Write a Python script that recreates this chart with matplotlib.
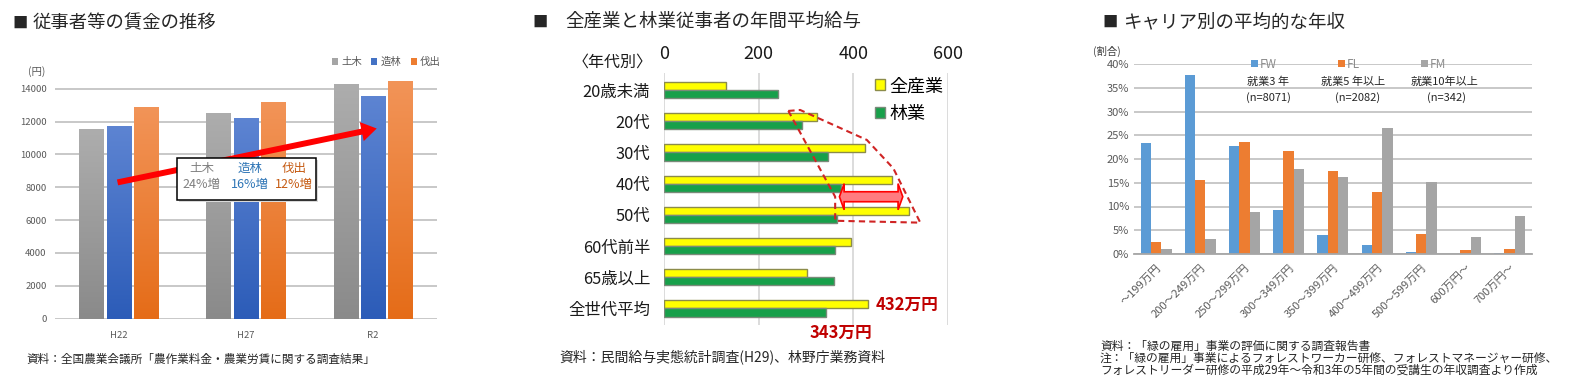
import numpy as np
import matplotlib
matplotlib.use('Agg')
import matplotlib.pyplot as plt
from matplotlib.patches import FancyArrowPatch, Polygon, Rectangle
from matplotlib.colors import LinearSegmentedColormap

plt.rcParams['font.family'] = ['Noto Sans CJK JP', 'DejaVu Sans']

# ---- data: panel 1 (wages per day, yen)
years = ['H22', 'H27', 'R2']
wage_series = ['土木', '造林', '伐出']
wage_doboku = [11550, 12520, 14290]
wage_zourin = [11730, 12220, 13540]
wage_bassyutsu = [12890, 13190, 14470]
wage_growth = ['24%増', '16%増', '12%増']

# ---- data: panel 2 (annual salary by age, 10k yen)
age_groups = ['20歳未満', '20代', '30代', '40代', '50代', '60代前半', '65歳以上', '全世代平均']
all_industry = [131, 323, 426, 482, 518, 396, 302, 432]
forestry = [242, 292, 346, 374, 365, 361, 360, 343]

# ---- data: panel 3 (income distribution by career)
income_bins = ['～199万円', '200～249万円', '250～299万円', '300～349万円', '350～399万円',
               '400～499万円', '500～599万円', '600万円～', '700万円～']
fw = [23.3, 37.7, 22.7, 9.3, 4.0, 1.8, 0.4, 0.0, 0.3]
fl = [2.5, 15.5, 23.5, 21.7, 17.5, 13.1, 4.2, 0.8, 1.0]
fm = [1.0, 3.2, 8.8, 17.8, 16.2, 26.5, 15.2, 3.6, 8.0]
career_notes = [('就業3 年', '(n=8071)'), ('就業5 年以上', '(n=2082)'), ('就業10年以上', '(n=342)')]

W, H = 1589, 386
fig = plt.figure(figsize=(W / 100, H / 100), dpi=100)


def fx(px):
    return px / W


def fy(py):
    return 1 - py / H


def box(l, t, r, b):
    return [fx(l), fy(b), (r - l) / W, (b - t) / H]


TXT = '#262626'

# =================== panel 1 ===================
ax1 = fig.add_axes(box(55, 55.8, 436.7, 318.7))
x = np.arange(len(years))
bw = 0.19
off = 0.215
tops = ['#adadad', '#5d84d2', '#f29458']
bots = ['#8a8a8a', '#2c5cb8', '#e56c18']
legend_cols = ['#a5a5a5', '#4472c4', '#ed7d31']
for k, vals in enumerate([wage_doboku, wage_zourin, wage_bassyutsu]):
    bars = ax1.bar(x + (k - 1) * off, vals, bw, color=legend_cols[k], zorder=2,
                   label=wage_series[k])
    # vertical gradient like the excel bars
    cmap = LinearSegmentedColormap.from_list('g%d' % k, [bots[k], tops[k]])
    grad = np.linspace(0, 1, 256).reshape(-1, 1)
    for b in bars:
        im = ax1.imshow(grad, extent=[b.get_x(), b.get_x() + b.get_width(), 0, b.get_height()],
                        origin='lower', aspect='auto', cmap=cmap, zorder=2.1)
        im.set_clip_path(b)
ax1.set_xlim(-0.5, 2.5)
ax1.set_ylim(0, 16000)
ax1.set_yticks(np.arange(0, 14001, 2000))
ax1.set_xticks(x)
ax1.set_xticklabels(years)
for s in ax1.spines.values():
    s.set_visible(False)
ax1.tick_params(length=0, labelsize=6.8, colors='#595959', pad=9)
ax1.tick_params(axis='y', pad=6)
ax1.yaxis.grid(True, color='#c4c4c4', lw=1.3, zorder=0)
ax1.set_axisbelow(True)
ax1.legend(loc='upper right', bbox_to_anchor=(fx(445), fy(53)), bbox_transform=fig.transFigure,
           ncol=3, frameon=False, fontsize=7.5, handlelength=0.6, handleheight=0.6,
           handletextpad=0.3, columnspacing=0.9, labelcolor='#595959', borderaxespad=0)

# red arrow, behind the box
ax1.add_patch(FancyArrowPatch((-0.03, 8260), (2.05, 11610),
                              arrowstyle='simple,tail_width=4.3,head_width=14,head_length=11',
                              color='#ff0000', lw=0, zorder=4))
# growth box
ax1.add_patch(Rectangle((0.475, 7100), 1.09, 2560, facecolor='#d9d9d9', edgecolor='none', zorder=4.5))
ax1.add_patch(Rectangle((0.458, 7225), 1.09, 2556, facecolor='white', edgecolor='black', lw=1.1, zorder=5))
box_x = [0.654, 1.031, 1.377]
box_c = ['#7f7f7f', '#2e75b6', '#c55a11']
for k in range(3):
    ax1.text(box_x[k], 9120, wage_series[k], color=box_c[k], fontsize=9, ha='center', va='center', zorder=6)
    ax1.text(box_x[k], 8180, wage_growth[k], color=box_c[k], fontsize=9, ha='center', va='center', zorder=6)
ax1.text(-0.64, 15050, '(円)', fontsize=7.5, color='#595959', ha='center', va='center')

fig.text(fx(12), fy(23), '■', fontsize=11, color=TXT, va='center')
fig.text(fx(33), fy(23), '従事者等の賃金の推移', fontsize=13.2, color=TXT, va='center')
fig.text(fx(26), fy(359), '資料：全国農業会議所「農作業料金・農業労賃に関する調査結果」', fontsize=8.4,
         color=TXT, va='center')

# =================== panel 2 ===================
ax2 = fig.add_axes(box(664, 73, 947.7, 325))
y = np.arange(len(age_groups))
bh = 0.26
ax2.barh(y - bh / 2, all_industry, bh, color='#ffff00', edgecolor='#8c8c4a', lw=1, zorder=2, label='全産業')
ax2.barh(y + bh / 2, forestry, bh, color='#17a04a', edgecolor='#7a8a7a', lw=1, zorder=2, label='林業')
ax2.set_xlim(0, 600)
ax2.set_ylim(7.53, -0.545)
ax2.set_xticks([0, 200, 400, 600])
ax2.set_yticks(y)
ax2.set_yticklabels(age_groups)
ax2.xaxis.tick_top()
for s in ax2.spines.values():
    s.set_visible(False)
ax2.tick_params(axis='x', length=0, labelsize=13, colors='#1a1a1a', pad=7.5)
ax2.tick_params(axis='y', length=0, labelsize=11.8, colors='#1a1a1a', pad=10)
ax2.xaxis.grid(True, color='#d9d9d9', lw=1.3, zorder=0)
ax2.set_axisbelow(True)
ax2.legend(loc='upper left', bbox_to_anchor=(fx(868), fy(70)), bbox_transform=fig.transFigure,
           frameon=False, fontsize=13, handlelength=0.55, handleheight=0.55, handletextpad=0.25,
           labelspacing=0.55, borderaxespad=0)

# dashed outline of the 40s-50s gap
gap_x = [263, 288, 429, 485, 542, 362, 362]
gap_y = [0.67, 0.64, 1.6, 2.51, 4.25, 4.19, 3.42]
ax2.add_patch(Polygon(np.column_stack([gap_x, gap_y]), closed=True, fill=False, edgecolor='#d02424',
                      lw=1.5, ls=(0, (3, 2)), zorder=4, clip_on=False))
# double arrow
ax_l, ax_r, ay = 371, 505, 3.42
sh, hh, hl = 0.16, 0.42, 10
arr = [(ax_l, ay), (ax_l + hl, ay - hh), (ax_l + hl, ay - sh), (ax_r - hl, ay - sh), (ax_r - hl, ay - hh),
       (ax_r, ay), (ax_r - hl, ay + hh), (ax_r - hl, ay + sh), (ax_l + hl, ay + sh), (ax_l + hl, ay + hh)]
ax2.add_patch(Polygon(arr, closed=True, facecolor='#ff7c80', edgecolor='#ff0000', lw=1.2, zorder=5))

ax2.text(all_industry[-1] + 15, 7 - bh / 2, '%d万円' % all_industry[-1], color='#c00000', fontsize=12,
         fontweight='bold', va='center', ha='left', clip_on=False)
ax2.text(forestry[-1] - 36, 7.78, '%d万円' % forestry[-1], color='#c00000', fontsize=12,
         fontweight='bold', va='center', ha='left', clip_on=False)

fig.text(fx(613), fy(62), '〈年代別〉', fontsize=11.5, color='#1a1a1a', ha='center', va='center')
fig.text(fx(532), fy(22), '■', fontsize=11, color=TXT, va='center')
fig.text(fx(565), fy(22), '全産業と林業従事者の年間平均給与', fontsize=13.3, color=TXT, va='center')
fig.text(fx(559), fy(357), '資料：民間給与実態統計調査(H29)、林野庁業務資料', fontsize=10, color=TXT, va='center')

# =================== panel 3 ===================
ax3 = fig.add_axes(box(1134, 64, 1531.7, 254))
xi = np.arange(len(income_bins))
w3 = 0.234
ax3.bar(xi - w3, fw, w3, color='#5b9bd5', zorder=2, label='FW')
ax3.bar(xi, fl, w3, color='#ed7d31', zorder=2, label='FL')
ax3.bar(xi + w3, fm, w3, color='#a5a5a5', zorder=2, label='FM')
ax3.set_xlim(-0.5, len(income_bins) - 0.5)
ax3.set_ylim(0, 40)
ax3.set_yticks(np.arange(0, 41, 5))
ax3.set_yticklabels(['%d%%' % v for v in range(0, 41, 5)])
ax3.set_xticks(xi)
ax3.set_xticklabels(income_bins, rotation=45, ha='right', va='top', rotation_mode='anchor')
for s in ax3.spines.values():
    s.set_visible(False)
ax3.spines['bottom'].set_visible(True)
ax3.spines['bottom'].set_color('#a6a6a6')
ax3.spines['bottom'].set_linewidth(1.3)
ax3.tick_params(length=0, labelsize=8, colors='#595959')
ax3.tick_params(axis='x', pad=6)
ax3.yaxis.grid(True, color='#c4c4c4', lw=1.3, zorder=0)
ax3.set_axisbelow(True)
ax3.legend(loc='center left', bbox_to_anchor=(fx(1246), fy(64)), bbox_transform=fig.transFigure,
           ncol=3, frameon=False, fontsize=8.5, handlelength=0.6, handleheight=0.6,
           handletextpad=0.15, columnspacing=5.2, labelcolor='#8c8c8c', borderaxespad=0)
note_px = [(1268, 1268), (1353, 1358), (1445, 1447)]
for (t1, t2), (p1, p2) in zip(career_notes, note_px):
    fig.text(fx(p1), fy(82), t1, fontsize=8, color='#262626', ha='center', va='center')
    fig.text(fx(p2), fy(98), t2, fontsize=8, color='#262626', ha='center', va='center')
fig.text(fx(1107), fy(51), '(割合)', fontsize=7.5, color='#404040', ha='center', va='center')

fig.text(fx(1102), fy(22), '■', fontsize=11, color=TXT, va='center')
fig.text(fx(1123), fy(22), 'キャリア別の平均的な年収', fontsize=13.3, color=TXT, va='center')
src3 = ['資料：「緑の雇用」事業の評価に関する調査報告書',
        '注：「緑の雇用」事業によるフォレストワーカー研修、フォレストマネージャー研修、',
        'フォレストリーダー研修の平成29年～令和3年の5年間の受講生の年収調査より作成']
for i, line in enumerate(src3):
    fig.text(fx(1100), fy(346.5 + 11.7 * i), line, fontsize=8.5, color=TXT, va='center')

fig.savefig('out.png', dpi=100)
